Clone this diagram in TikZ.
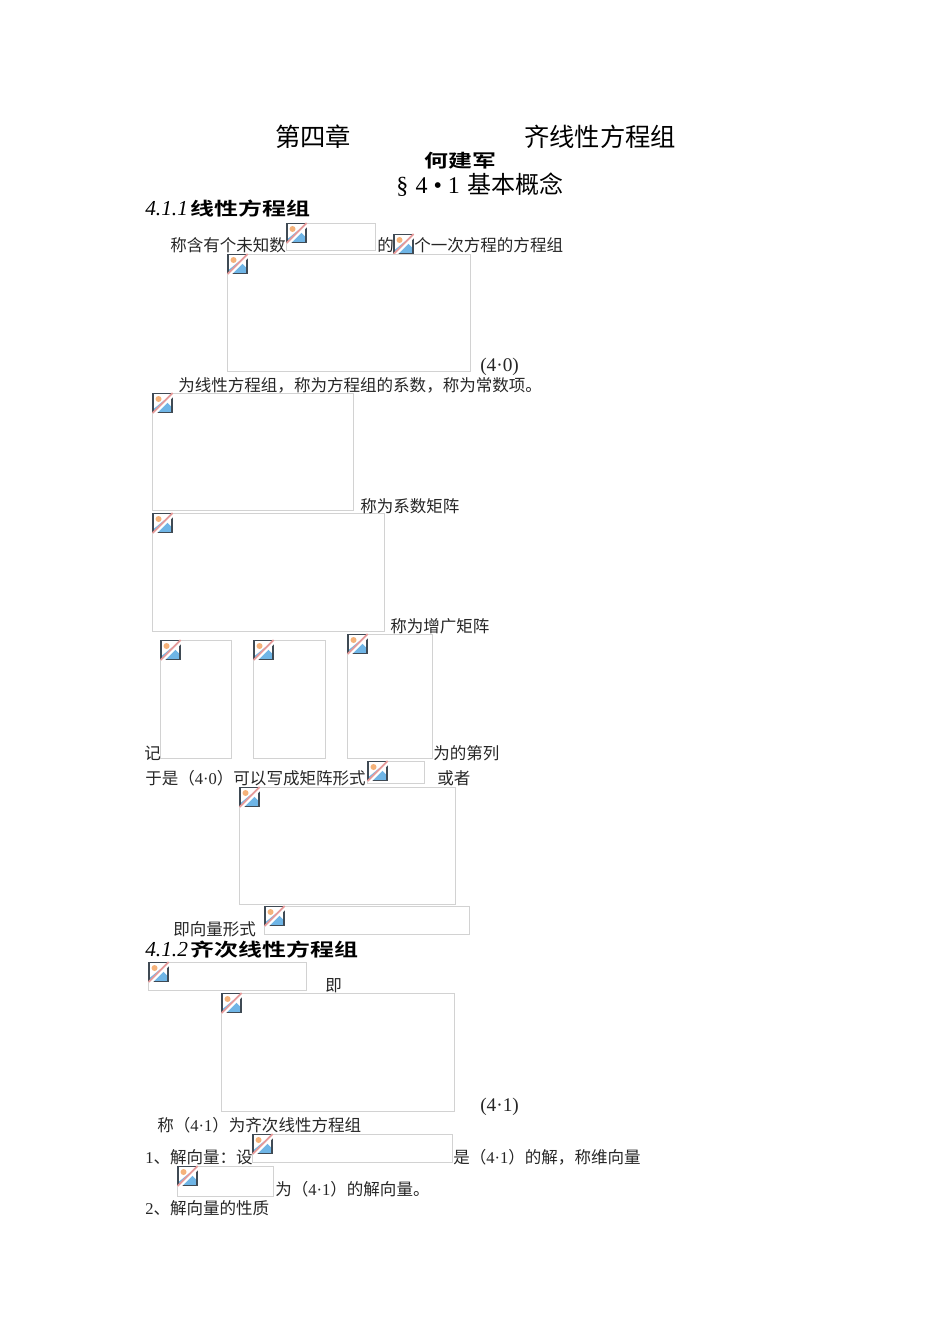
\documentclass[tikz,border=0pt]{standalone}
\usepackage{fontspec}
\setmainfont{Liberation Serif}
\newfontfamily\cjk{Noto Sans CJK SC}
\newfontfamily\cjkbold[FakeStretch=1.33]{Noto Sans CJK SC Bold}
\newcommand{\sn}[1]{{\rmfamily #1}}
\usetikzlibrary{positioning}
\definecolor{boxgray}{HTML}{D2D2D2}
\definecolor{iconframe}{HTML}{3F4A54}
\definecolor{iconblue}{HTML}{6FB5E6}
\definecolor{iconsun}{HTML}{F5B27A}
\definecolor{iconslash}{HTML}{E59A9A}
\begin{document}
\begin{tikzpicture}[
x=0.75pt,y=-0.75pt,
imgbox/.style={draw=boxgray,line width=0.6pt,fill=white,inner sep=0pt,anchor=north west},
bodytext/.style={anchor=base west,inner sep=0pt,font=\fontsize{12.4}{14}\selectfont\cjk,text=black!85},
eqtext/.style={anchor=base west,inner sep=0pt,font=\fontsize{14.5}{16}\selectfont,text=black!85},
titletext/.style={anchor=base west,inner sep=0pt,font=\fontsize{19}{22}\selectfont\cjk},
headtext/.style={anchor=base west,inner sep=0pt,font=\fontsize{13.5}{16}\selectfont},
pics/brokenimg/.style={code={
  \fill[white] (0,0) rectangle (20,20);
  \fill[iconblue] (1,19) -- (1,16) -- (12,7) -- (19,14) -- (19,19) -- cycle;
  \fill[iconsun] (6,6) circle[radius=3];
  \draw[iconframe,line width=1.1pt] (0.5,0.5) rectangle (19.5,19.5);
  \draw[white,line width=2.2pt] (1.5,21) -- (21,1.5);
  \draw[iconslash,line width=1.3pt] (0,20) -- (20,0);
}}
]
\useasboundingbox (0,0) rectangle (950,1344);
% image placeholders
\foreach \Name/\Xa/\Ya/\Xb/\Yb in {
  a/286/223/376/251,b/393/234/413/252,c/227/254/471/372,d/152/393/354/511,
  e/152/513/385/632,f/160/640/232/759,g/253/640/326/759,h/347/634/433/759,
  i/367/761/425/784,j/239/787/456/905,k/264/906/470/935,l/148/962/307/991,
  m/221/993/455/1112,n/252/1134/453/1163,o/177/1166/274/1197}
{
  \node[imgbox,minimum width=(\Xb-\Xa-1)*0.75pt,minimum height=(\Yb-\Ya-1)*0.75pt] (box\Name) at (\Xa,\Ya) {};
  \pic at ([xshift=0.4pt]box\Name.north west) {brokenimg};
}
% title lines
\node[titletext] (chapa) at (275,147) {第四章};
\node[titletext] (chapb) at (524,147) {齐线性方程组};
\node[anchor=base west,inner sep=0pt,font=\fontsize{13.5}{16}\selectfont\cjkbold] (author) at (424,168) {何建军};
\node[anchor=base west,inner sep=0pt,font=\fontsize{18}{20}\selectfont] (sect) at (396,194) {§\kern1pt\ 4 • 1\kern1pt\ {\cjk 基本概念}};
% headings
\node[headtext] (heada) at (145,216) {\fontsize{16}{18}\selectfont\textit{4.1.1}\kern2pt{\fontsize{13.5}{16}\selectfont\cjkbold 线性方程组}};
\node[headtext] (headb) at (145,956) {\fontsize{16}{18}\selectfont\textit{4.1.2}\kern2pt{\fontsize{13.5}{16}\selectfont\cjkbold 齐次线性方程组}};
% body text
\node[bodytext] (ta) at (170,252) {称含有个未知数};
\node[bodytext] (tb) at (377,252) {的};
\node[bodytext] (tc) at (414,252) {个一次方程的方程组};
\node[eqtext] (td) at (480,371) {(4·0)};
\node[bodytext] (te) at (178,391) {为线性方程组，称为方程组的系数，称为常数项。};
\node[bodytext] (tf) at (360,512) {称为系数矩阵};
\node[bodytext] (tg) at (390,632) {称为增广矩阵};
\node[bodytext] (th) at (144,759) {记};
\node[bodytext] (ti) at (433,759) {为的第列};
\node[bodytext] (tj) at (145,784) {于是（\sn{4·0}）可以写成矩阵形式};
\node[bodytext] (tk) at (437,784) {或者};
\node[bodytext] (tl) at (173,935) {即向量形式};
\node[bodytext] (tm) at (325,991) {即};
\node[eqtext] (tn) at (480,1111) {(4·1)};
\node[bodytext] (to) at (157,1131) {称（\sn{4·1}）为齐次线性方程组};
\node[bodytext] (tp) at (145,1163) {\sn{1}、解向量：设};
\node[bodytext] (tq) at (453,1163) {是（\sn{4·1}）的解，称维向量};
\node[bodytext] (tr) at (275,1195) {为（\sn{4·1}）的解向量。};
\node[bodytext] (ts) at (145,1214) {\sn{2}、解向量的性质};
\end{tikzpicture}
\end{document}
